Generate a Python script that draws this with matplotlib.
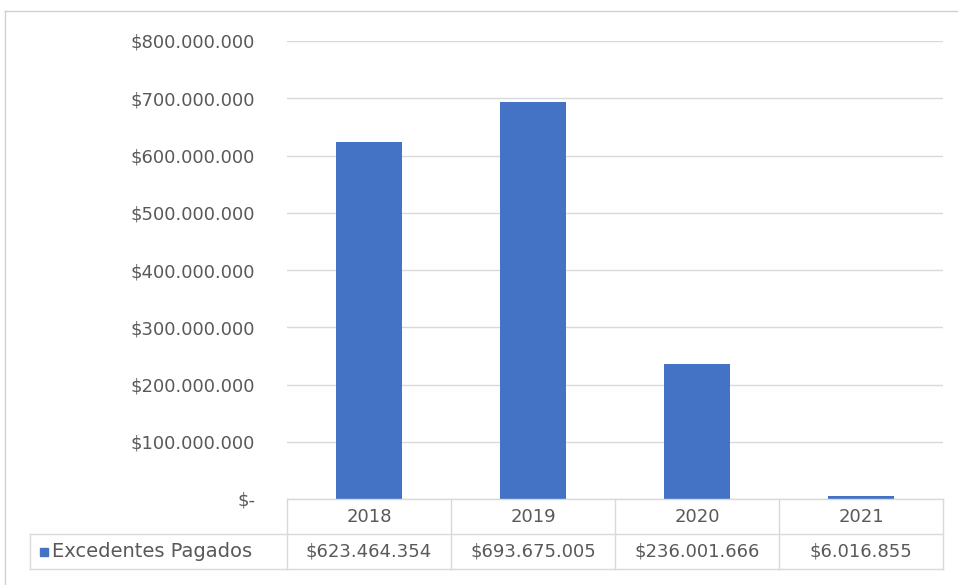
import matplotlib.pyplot as plt
from matplotlib.lines import Line2D
from matplotlib.patches import Rectangle

years = ['2018', '2019', '2020', '2021']
paid = [623464354, 693675005, 236001666, 6016855]
series_name = 'Excedentes Pagados'
y_ticks = [0, 100e6, 200e6, 300e6, 400e6, 500e6, 600e6, 700e6, 800e6]

BAR_COLOR = '#4472C4'
TEXT_COLOR = '#595959'
GRID_COLOR = '#d9d9d9'

plt.rcParams['font.family'] = ['DejaVu Sans']

W, H = 958, 585


def money(v):
    if v == 0:
        return '$-'
    return '$' + f'{int(v):,}'.replace(',', '.')


def fx(px):
    return px / W


def fy(py):
    return 1 - py / H


fig = plt.figure(figsize=(W / 100, H / 100), dpi=100)
x0, x1 = 287, 943
y_top, y_base = 41, 499
ax = fig.add_axes([fx(x0), fy(y_base), fx(x1) - fx(x0), fy(y_top) - fy(y_base)])

xs = range(len(years))
ax.bar(xs, paid, width=0.4, color=BAR_COLOR, zorder=3)
ax.set_xlim(-0.5, len(years) - 0.5)
ax.set_ylim(0, 800e6)
ax.set_yticks(y_ticks)
ax.set_yticklabels([money(v) for v in y_ticks], color=TEXT_COLOR, fontsize=13)
ax.tick_params(axis='y', length=0, pad=23)
ax.set_xticks([])
ax.grid(axis='y', color=GRID_COLOR, linewidth=1, zorder=0)
for s in ax.spines.values():
    s.set_visible(False)

# data table under the plot
row1_bot, row2_bot = 534, 569
table_left = 30
col_w = (x1 - x0) / len(years)
edges = [x0 + i * col_w for i in range(len(years) + 1)]


def hline(xa, xb, y):
    fig.add_artist(Line2D([fx(xa), fx(xb)], [fy(y), fy(y)], color=GRID_COLOR, lw=1))


def vline(x, ya, yb):
    fig.add_artist(Line2D([fx(x), fx(x)], [fy(ya), fy(yb)], color=GRID_COLOR, lw=1))


hline(x0, x1, y_base)
hline(table_left, x1, row1_bot)
hline(table_left, x1, row2_bot)
for e in edges:
    vline(e, y_base, row2_bot)
vline(table_left, row1_bot, row2_bot)

for i, (yr, v) in enumerate(zip(years, paid)):
    cx = (edges[i] + edges[i + 1]) / 2
    fig.text(fx(cx), fy((y_base + row1_bot) / 2), yr, ha='center', va='center',
             color=TEXT_COLOR, fontsize=13)
    fig.text(fx(cx), fy((row1_bot + row2_bot) / 2), money(v), ha='center', va='center',
             color=TEXT_COLOR, fontsize=13)

fig.add_artist(Rectangle((fx(40), fy(556)), fx(8), fy(548) - fy(556), color=BAR_COLOR))
fig.text(fx(52), fy((row1_bot + row2_bot) / 2), series_name, ha='left', va='center',
         color=TEXT_COLOR, fontsize=14)

# chart frame
fig.add_artist(Line2D([fx(5), 1], [fy(11), fy(11)], color='#d0d0d0', lw=1))
fig.add_artist(Line2D([fx(5), fx(5)], [fy(11), 0], color='#d0d0d0', lw=1))

fig.savefig('out.png', dpi=100, facecolor='white')
